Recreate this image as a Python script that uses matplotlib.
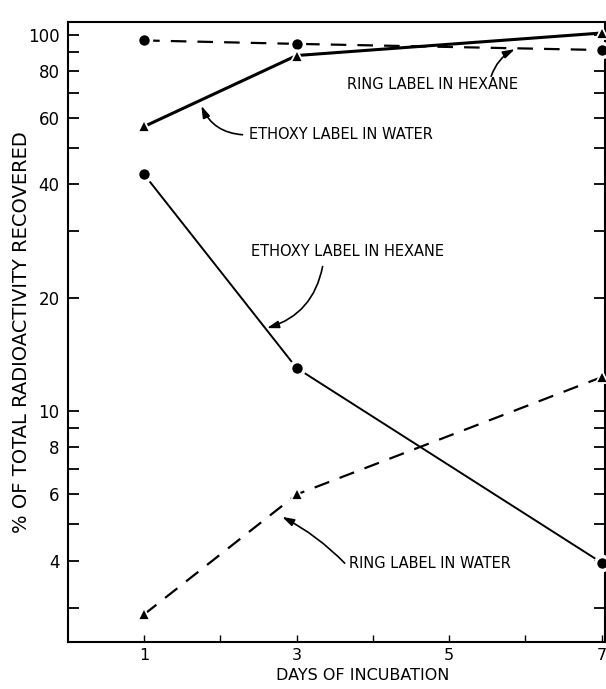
import numpy as np
import matplotlib
matplotlib.use("Agg")
import matplotlib.pyplot as plt

# data (log y axis)
days = [1, 3, 7]
ring_hexane = [96.5, 94.5, 91.0]     # circles, dashed
ethoxy_water = [57.0, 88.0, 101.0]   # triangles, solid
ethoxy_hexane = [42.5, 13.0, 3.95]   # circles, solid
ring_water = [2.88, 6.0, 12.3]       # triangles, dashed

major_y = [4, 6, 8, 10, 20, 40, 60, 80, 100]
minor_y = [3, 5, 7, 9, 30, 50, 70, 90]
x_ticks = [1, 3, 5, 7]
x_minor = [2, 4, 6]

plt.rcParams['font.family'] = ['DejaVu Sans']

fig = plt.figure(figsize=(6.06, 6.89), dpi=100)
ax = fig.add_axes([0.112, 0.068, 0.886, 0.900])

circ = dict(marker='o', ms=10, mec='white', mew=2.5, color='black', zorder=3)
tri = dict(marker='^', ms=8, mec='white', mew=1.3, color='black', zorder=3)
ax.plot(days, ring_hexane, '--', lw=1.6, dashes=(7, 5), **circ)
ax.plot(days, ethoxy_water, '-', lw=2.2, **tri)
ax.plot(days, ethoxy_hexane, '-', lw=1.4, **circ)
ax.plot(days, ring_water, '--', lw=1.6, dashes=(7, 5), **tri)

ax.set_yscale('log')
ax.set_xlim(0, 7.04)
ax.set_ylim(2.43, 108)

ax.set_yticks(major_y)
ax.set_yticklabels([str(v) for v in major_y])
ax.set_yticks(minor_y, minor=True)
ax.yaxis.set_minor_formatter(matplotlib.ticker.NullFormatter())
ax.set_xticks(x_ticks)
ax.set_xticks(x_minor, minor=True)
ax.set_xticklabels([str(v) for v in x_ticks])

ax.tick_params(axis='y', which='both', direction='in', length=8, width=1.3,
               right=True, labelsize=12, pad=6)
ax.tick_params(axis='x', which='both', direction='in', length=5, width=1,
               top=False, labelsize=11.5, pad=4)
for s in ax.spines.values():
    s.set_linewidth(1.5)

fig.text(22 / 606, 1 - 332 / 689, "% OF TOTAL RADIOACTIVITY RECOVERED",
         rotation=90, ha='center', va='center', fontsize=14)
fig.text(363 / 606, 1 - 675 / 689, "DAYS OF INCUBATION",
         ha='center', va='center', fontsize=11.5)

ap = dict(arrowstyle='-|>,head_length=0.7,head_width=0.22', color='black', lw=1.2,
          shrinkA=0, shrinkB=0)
tfs = 10.5

ax.text(3.66, 73.6, "RING LABEL IN HEXANE", fontsize=tfs, va='center', ha='left')
ax.annotate('', xy=(5.86, 91.5), xytext=(5.55, 77.5),
            arrowprops=dict(connectionstyle='arc3,rad=-0.2', **ap))

ax.text(2.38, 54.2, "ETHOXY LABEL IN WATER", fontsize=tfs, va='center', ha='left')
ax.annotate('', xy=(1.75, 64.7), xytext=(2.29, 54.2),
            arrowprops=dict(connectionstyle='arc3,rad=-0.3', **ap))

ax.text(2.40, 26.5, "ETHOXY LABEL IN HEXANE", fontsize=tfs, va='center', ha='left')
ax.annotate('', xy=(2.61, 16.6), xytext=(3.34, 24.2),
            arrowprops=dict(connectionstyle='arc3,rad=-0.3', **ap))

ax.text(3.69, 3.94, "RING LABEL IN WATER", fontsize=tfs, va='center', ha='left')
ax.annotate('', xy=(2.81, 5.23), xytext=(3.63, 3.94),
            arrowprops=dict(connectionstyle='arc3,rad=0.08', **ap))

fig.savefig("out.png", dpi=100)
